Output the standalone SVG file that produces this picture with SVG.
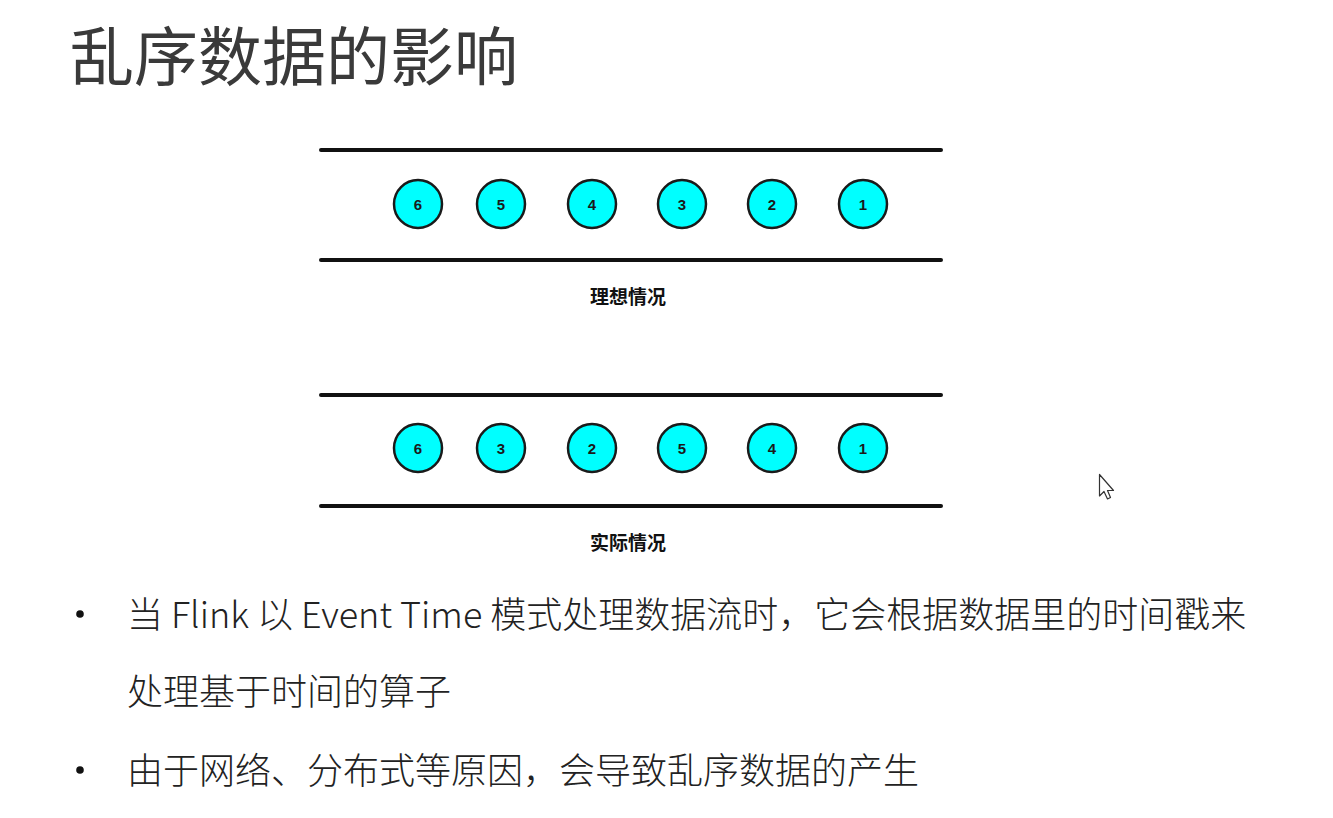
<svg xmlns="http://www.w3.org/2000/svg" width="1333" height="818" viewBox="0 0 1333 818">
<style>
.title{font-family:"Noto Sans CJK SC","Noto Sans",sans-serif;font-size:64px;fill:#3a3a3a;font-weight:400}
.rail{stroke:#111;stroke-width:4;stroke-linecap:round}
.node circle{fill:#00ffff;stroke:#1a1a1a;stroke-width:2.5}
.node text{font-family:"Liberation Sans",Arial,sans-serif;font-size:15px;font-weight:bold;fill:#1a1a1a;text-anchor:middle}
.cap{font-family:"Noto Sans CJK SC",sans-serif;font-size:19px;font-weight:bold;fill:#111;text-anchor:middle}
.body{font-family:"Noto Sans CJK SC","Noto Sans",sans-serif;font-size:36px;font-weight:300;fill:#222}
.bullet{fill:#111}
</style>
<rect width="1333" height="818" fill="#ffffff"/>
<text class="title" x="70" y="80">乱序数据的影响</text>

<g id="connectors">
<line class="rail" x1="321" y1="150" x2="941" y2="150"/>
<line class="rail" x1="321" y1="260" x2="941" y2="260"/>
<line class="rail" x1="321" y1="395" x2="941" y2="395"/>
<line class="rail" x1="321" y1="506" x2="941" y2="506"/>
</g>

<g id="ideal">
<g id="i6" class="node"><circle cx="418" cy="204" r="24"/><text x="418" y="209.5">6</text></g>
<g id="i5" class="node"><circle cx="501" cy="204" r="24"/><text x="501" y="209.5">5</text></g>
<g id="i4" class="node"><circle cx="592" cy="204" r="24"/><text x="592" y="209.5">4</text></g>
<g id="i3" class="node"><circle cx="682" cy="204" r="24"/><text x="682" y="209.5">3</text></g>
<g id="i2" class="node"><circle cx="772" cy="204" r="24"/><text x="772" y="209.5">2</text></g>
<g id="i1" class="node"><circle cx="863" cy="204" r="24"/><text x="863" y="209.5">1</text></g>
<text class="cap" x="628" y="304">理想情况</text>
</g>

<g id="actual">
<g id="a6" class="node"><circle cx="418" cy="448" r="24"/><text x="418" y="453.5">6</text></g>
<g id="a3" class="node"><circle cx="501" cy="448" r="24"/><text x="501" y="453.5">3</text></g>
<g id="a2" class="node"><circle cx="592" cy="448" r="24"/><text x="592" y="453.5">2</text></g>
<g id="a5" class="node"><circle cx="682" cy="448" r="24"/><text x="682" y="453.5">5</text></g>
<g id="a4" class="node"><circle cx="772" cy="448" r="24"/><text x="772" y="453.5">4</text></g>
<g id="a1" class="node"><circle cx="863" cy="448" r="24"/><text x="863" y="453.5">1</text></g>
<text class="cap" x="628" y="550">实际情况</text>
</g>

<g id="bullets">
<circle class="bullet" cx="80" cy="614" r="3.8"/>
<text class="body" x="127" y="628">当 Flink 以 Event Time 模式处理数据流时，它会根据数据里的时间戳来</text>
<text class="body" x="127" y="705">处理基于时间的算子</text>
<circle class="bullet" cx="80" cy="770" r="3.8"/>
<text class="body" x="127" y="784">由于网络、分布式等原因，会导致乱序数据的产生</text>
</g>

<path d="M1099.5 474.5 L1099.5 496 L1104 491.5 L1107.5 499 L1110.5 497.5 L1107.5 490.5 L1113.5 490.5 Z" fill="#fff" stroke="#333" stroke-width="1.2" stroke-linejoin="round"/>
</svg>
